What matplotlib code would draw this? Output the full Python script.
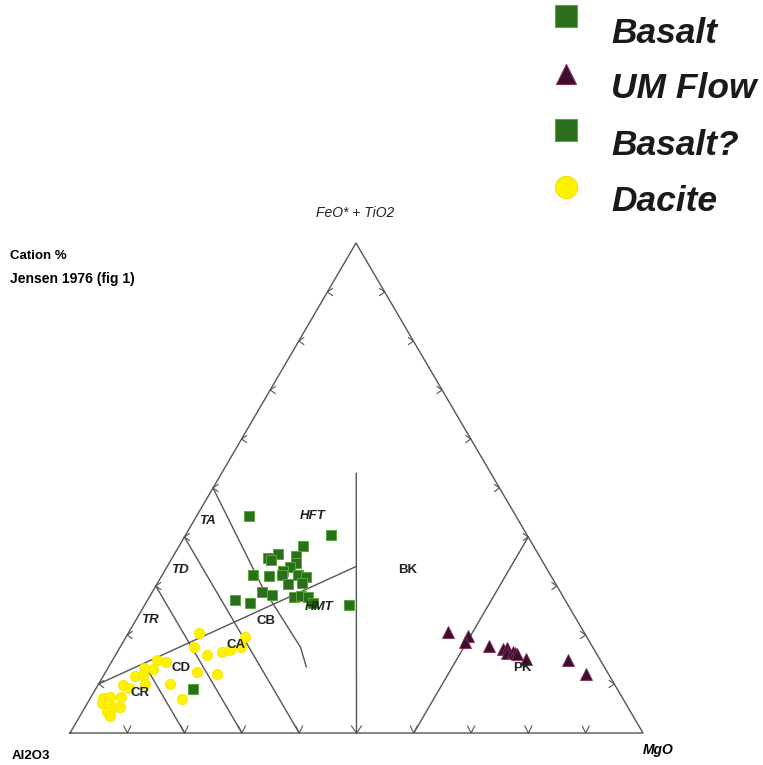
import numpy as np
import matplotlib
matplotlib.use("Agg")
import matplotlib.pyplot as plt

plt.rcParams["font.family"] = ["Liberation Sans", "DejaVu Sans"]

# compositions in cation % : Al2O3, FeO*+TiO2, MgO
basalt_al = [46.6, 34.2, 40.2, 47.6, 45.5, 47.3, 42.5, 43.2, 44.7, 46.3, 52.0, 49.3, 46.8,
             44.0, 42.8, 44.1, 46.8, 52.1, 50.7, 57.7, 55.4, 47.0, 45.7, 44.6, 44.4, 38.3]
basalt_fe = [44.3, 40.4, 38.2, 35.7, 36.5, 35.3, 36.1, 34.7, 33.9, 33.1, 32.2, 32.0, 32.2,
             32.2, 31.8, 30.6, 30.4, 28.8, 28.2, 27.1, 26.5, 27.8, 28.0, 27.8, 26.5, 26.1]
basalt_mg = [9.1, 25.4, 21.6, 16.7, 18.0, 17.4, 21.4, 22.1, 21.4, 20.6, 15.8, 18.7, 21.0,
             23.8, 25.4, 25.3, 22.8, 19.1, 21.1, 15.2, 18.1, 25.2, 26.3, 27.6, 29.1, 35.6]

um_al = [23.8, 20.7, 21.7, 17.9, 15.8, 15.0, 15.5, 14.5, 14.1, 13.9, 12.8, 5.6, 3.9]
um_fe = [20.6, 19.8, 18.6, 17.8, 17.1, 17.3, 16.3, 16.5, 16.3, 16.1, 15.1, 14.9, 12.0]
um_mg = [55.6, 59.5, 59.7, 64.3, 67.1, 67.7, 68.2, 69.0, 69.6, 70.0, 72.1, 79.5, 84.1]

basalt_q_al = [74.0]
basalt_q_fe = [9.0]
basalt_q_mg = [17.0]

dacite_al = [67.2, 69.5, 68.1, 65.2, 63.6, 61.4, 59.6, 71.6, 68.3, 77.5, 77.0, 77.3, 75.9,
             78.9, 80.5, 82.8, 81.3, 81.9, 85.8, 85.1, 87.4, 90.7, 89.4, 91.4, 90.5, 89.7,
             88.6, 91.4, 91.2]
dacite_fe = [20.4, 17.6, 15.9, 16.5, 16.9, 17.6, 19.6, 12.4, 12.0, 10.0, 6.9, 14.9, 14.5,
             13.1, 13.3, 11.6, 11.8, 10.0, 9.8, 9.2, 7.3, 7.1, 7.3, 6.1, 5.7, 5.3,
             5.3, 4.3, 3.5]
dacite_mg = [12.4, 12.9, 16.0, 18.3, 19.5, 21.0, 20.8, 16.0, 19.7, 12.5, 16.1, 7.8, 9.6,
             8.0, 6.2, 5.6, 6.9, 8.1, 4.4, 5.7, 5.3, 2.2, 3.3, 2.5, 3.8, 5.0,
             6.1, 4.3, 5.3]

# Jensen (1976) field boundaries, (Al, Fe, Mg)
thol_calc = [(90, 10, 0), (33, 34, 33)]
al80_seg = [(80, 14.2, 5.8), (80, 0, 20)]
al70_line = [(70, 30, 0), (70, 0, 30)]
al60_line = [(60, 40, 0), (60, 0, 40)]
andesite_curve = [(50, 50, 0), (51.5, 30, 18.5), (51, 17.5, 31.5), (52, 13.5, 34.5)]
komatiite_line = [(23.5, 53, 23.5), (50, 0, 50)]
pk_line = [(40, 0, 60), (0, 40, 60)]

ticks = [10, 20, 30, 40, 50, 60, 70, 80, 90]

# corners of the triangle on the page
AL_V = (70, 733)
FE_V = (356, 243)
MG_V = (643, 733)


def tern(al, fe, mg):
    al, fe, mg = np.asarray(al, float), np.asarray(fe, float), np.asarray(mg, float)
    s = al + fe + mg
    x = (al * AL_V[0] + fe * FE_V[0] + mg * MG_V[0]) / s
    y = (al * AL_V[1] + fe * FE_V[1] + mg * MG_V[1]) / s
    return x, y


fig = plt.figure(figsize=(7.63, 7.65), dpi=100)
ax = fig.add_axes([0, 0, 1, 1])
ax.set_xlim(0, 763)
ax.set_ylim(765, 0)
ax.axis("off")

lc = "#555555"
x, y = tern([100, 0, 0, 100], [0, 100, 0, 0], [0, 0, 100, 0])
ax.plot(x, y, color=lc, lw=1.0)

for seg in [thol_calc, al80_seg, al70_line, al60_line, andesite_curve, komatiite_line, pk_line]:
    a, f, m = zip(*seg)
    x, y = tern(a, f, m)
    ax.plot(x, y, color=lc, lw=1.0)

# chevron ticks
for k in ticks:
    x, y = tern(100 - k, k, 0)
    ax.plot([x + 5, x, x + 5], [y - 3.5, y, y + 3.5], color=lc, lw=0.8)
    x, y = tern(0, k, 100 - k)
    ax.plot([x - 5, x, x - 5], [y - 3.5, y, y + 3.5], color=lc, lw=0.8)
    x, y = tern(100 - k, 0, k)
    w = 5 if k == 50 else 3.5
    ax.plot([x - w, x, x + w], [y - 7, y, y - 7], color=lc, lw=0.8)

# data
x, y = tern(dacite_al, dacite_fe, dacite_mg)
ax.plot(x, y, "o", ms=7.5, color="#fff200", mec="#f2e400", mew=0.5, zorder=3)
x, y = tern(basalt_al, basalt_fe, basalt_mg)
ax.plot(x, y, "s", ms=7, color="#2b6e1c", mec="#59a83a", mew=0.7, zorder=4)
x, y = tern(basalt_q_al, basalt_q_fe, basalt_q_mg)
ax.plot(x, y, "s", ms=7, color="#2b6e1c", mec="#59a83a", mew=0.7, zorder=4)
x, y = tern(um_al, um_fe, um_mg)
ax.plot(x, y, "^", ms=8, color="#3b0f2e", mec="#8a2a5a", mew=0.6, zorder=4)

# field labels
lab = dict(fontsize=9.5, fontweight="bold", color="#222222", ha="center", va="center", zorder=5)
for t, px, py, sty in [("TA", 207, 521, "italic"), ("TD", 180, 570, "italic"),
                       ("TR", 150, 620, "italic"), ("CR", 140, 693, "normal"),
                       ("CD", 181, 668, "normal"), ("CA", 236, 645, "normal"),
                       ("CB", 266, 621, "normal"), ("HFT", 313, 516, "italic"),
                       ("HMT", 319, 607, "italic"), ("BK", 408, 570, "normal"),
                       ("PK", 522, 668, "normal")]:
    ax.text(px, py, t, fontstyle=sty, **lab)

# axis titles
ax.text(355, 213, "FeO* + TiO2", fontsize=10, fontstyle="italic", ha="center", va="center",
        color="#222222")
ax.text(12, 756, "Al2O3", fontsize=9.5, fontweight="bold", ha="left", va="center")
ax.text(643, 750, "MgO", fontsize=10, fontweight="bold", fontstyle="italic", ha="left", va="center")
ax.text(10, 256, "Cation %", fontsize=9.5, fontweight="bold", ha="left", va="center")
ax.text(10, 279, "Jensen 1976 (fig 1)", fontsize=10, fontweight="bold", ha="left", va="center")

# legend
leg_items = [("Basalt", "s", "#2b6e1c", "#59a83a", 16),
             ("UM Flow", "^", "#3b0f2e", "#8a2a5a", 15),
             ("Basalt?", "s", "#2b6e1c", "#59a83a", 16),
             ("Dacite", "o", "#fff200", "#f2e400", 16)]
leg_y = [16, 74, 130, 187]
leg_ty = [33, 88, 145, 201]
for (name, mk, fc, ec, ms), my, ty in zip(leg_items, leg_y, leg_ty):
    ax.plot([566], [my], mk, ms=ms, color=fc, mec=ec, mew=0.8)
    ax.text(611, ty, name, fontsize=25.5, fontweight="bold", fontstyle="italic",
            color="#1a1a1a", ha="left", va="center")

fig.savefig("out.png", dpi=100)
